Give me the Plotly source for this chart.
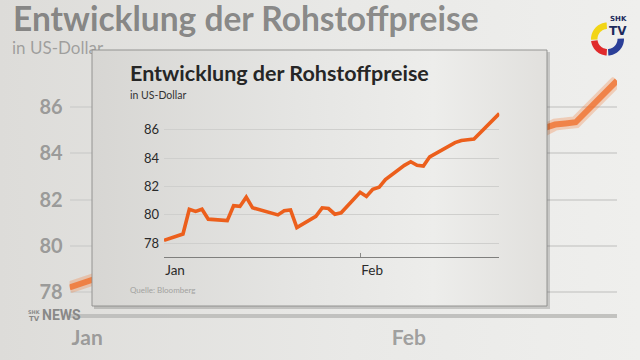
import numpy as np
import plotly.graph_objects as go

W, H = 640, 360

# ---------------- data ----------------
dates = ["2021-01-01", "2021-01-04", "2021-01-05", "2021-01-06", "2021-01-07", "2021-01-08",
         "2021-01-11", "2021-01-12", "2021-01-13", "2021-01-14", "2021-01-15",
         "2021-01-19", "2021-01-20", "2021-01-21", "2021-01-22",
         "2021-01-25", "2021-01-26", "2021-01-27", "2021-01-28", "2021-01-29",
         "2021-02-01", "2021-02-02", "2021-02-03", "2021-02-04", "2021-02-05",
         "2021-02-08", "2021-02-09", "2021-02-10", "2021-02-11", "2021-02-12",
         "2021-02-16", "2021-02-17", "2021-02-18", "2021-02-19", "2021-02-23"]
values = [78.2, 78.65, 80.4, 80.25, 80.4, 79.7,
          79.6, 80.65, 80.6, 81.25, 80.5,
          80.0, 80.3, 80.35, 79.1,
          79.9, 80.5, 80.45, 80.05, 80.15,
          81.6, 81.3, 81.8, 81.95, 82.5,
          83.5, 83.75, 83.5, 83.45, 84.1,
          85.1, 85.25, 85.3, 85.35, 87.15]

y_tick_vals = [78, 80, 82, 84, 86]
x_tick_dates = ["2021-01-01", "2021-02-01"]
x_tick_labels = ["Jan", "Feb"]

title_text = "Entwicklung der Rohstoffpreise"
subtitle_text = "in US-Dollar"
source_text = "Quelle: Bloomberg"
logo_top = "SHK"
logo_bottom = "TV"
news_text = "NEWS"

# ---------------- style ----------------
ORANGE = "#ec5f1c"
FONT = "Lato"
X_RANGE = ["2021-01-01", "2021-02-23"]
Y_RANGE = [77.05, 87.3]


def dom_x(a, b):
    return [a / W, b / W]


def dom_y(top, bottom):
    return [1 - bottom / H, 1 - top / H]


fig = go.Figure()
NOHOVER = dict(hoverinfo="skip", showlegend=False)

# ---- subplot 1: full-frame backdrop (pixel coordinates) ----
fig.add_trace(go.Scatter(
    x=[0, W, W, 0, 0], y=[0, 0, H, H, 0], xaxis="x", yaxis="y", mode="lines",
    line=dict(width=0), fill="toself",
    fillgradient=dict(type="horizontal",
                      colorscale=[[0, "#dddcd9"], [0.55, "#e9e9e7"], [1, "#efefed"]]),
    **NOHOVER))

# blurred (enlarged) title of the background chart - drawn under the card
fig.add_trace(go.Scatter(
    x=[13], y=[23], text=[title_text], mode="text", textposition="middle right",
    textfont=dict(family=FONT, size=33.5, color="rgba(75,75,75,0.62)", weight="bold"),
    xaxis="x", yaxis="y", cliponaxis=False, **NOHOVER))
fig.add_trace(go.Scatter(
    x=[12], y=[50], text=[subtitle_text], mode="text", textposition="middle right",
    textfont=dict(family=FONT, size=17, color="rgba(95,95,95,0.5)"),
    xaxis="x", yaxis="y", cliponaxis=False, **NOHOVER))

# ---- subplot 2: blurred enlarged chart in the background ----
fig.add_trace(go.Scatter(x=dates, y=values, xaxis="x2", yaxis="y2", mode="lines",
                         line=dict(color="rgba(242,125,60,0.30)", width=12), **NOHOVER))
fig.add_trace(go.Scatter(x=dates, y=values, xaxis="x2", yaxis="y2", mode="lines",
                         line=dict(color="rgba(240,112,45,0.80)", width=6), **NOHOVER))

# ---- subplot 3: the card ----
fig.add_trace(go.Scatter(
    x=[94, 550, 550, 94, 94], y=[52, 52, 309, 309, 52], xaxis="x3", yaxis="y3", mode="lines",
    line=dict(width=0), fill="toself", fillcolor="rgba(0,0,0,0.16)", **NOHOVER))
fig.add_trace(go.Scatter(
    x=[92, 547, 547, 92, 92], y=[50, 50, 306, 306, 50], xaxis="x3", yaxis="y3", mode="lines",
    line=dict(width=1, color="rgba(140,140,138,0.9)"), fill="toself",
    fillgradient=dict(type="horizontal",
                      colorscale=[[0, "#d7d6d3"], [0.45, "#e5e5e3"], [0.75, "#ededeb"], [1, "#e1e0dd"]]),
    **NOHOVER))

# ---- subplot 4: foreground chart ----
fig.add_trace(go.Scatter(x=dates, y=values, xaxis="x4", yaxis="y4", mode="lines",
                         line=dict(color=ORANGE, width=3.6), **NOHOVER))

hidden = dict(visible=False, showgrid=False, zeroline=False, fixedrange=True)
fig.update_layout(
    width=W, height=H, margin=dict(l=0, r=0, t=0, b=0),
    paper_bgcolor="#e4e3e0", plot_bgcolor="rgba(0,0,0,0)", showlegend=False,
    xaxis=dict(domain=[0, 1], range=[0, W], anchor="y", **hidden),
    yaxis=dict(domain=[0, 1], range=[H, 0], anchor="x", **hidden),
    xaxis2=dict(domain=dom_x(69.6, 617), range=X_RANGE, type="date", anchor="y2",
                showgrid=False, zeroline=False, showline=True,
                linecolor="rgba(188,188,186,0.9)", linewidth=4, ticks="",
                tickvals=x_tick_dates, ticktext=x_tick_labels,
                ticklabelposition="outside right", ticklabelstandoff=2,
                tickfont=dict(family=FONT, size=21, color="rgba(110,110,110,0.62)", weight="bold")),
    yaxis2=dict(domain=dom_y(77.2, 314), range=Y_RANGE, anchor="x2",
                showgrid=True, gridcolor="rgba(208,208,206,0.8)", gridwidth=2,
                zeroline=False, showline=False, ticks="",
                tickvals=y_tick_vals, ticklabelstandoff=6,
                tickfont=dict(family=FONT, size=20, color="rgba(110,110,110,0.62)", weight="bold")),
    xaxis3=dict(domain=[0, 1], range=[0, W], anchor="y3", **hidden),
    yaxis3=dict(domain=[0, 1], range=[H, 0], anchor="x3", **hidden),
    xaxis4=dict(domain=dom_x(164, 499.3), range=X_RANGE, type="date", anchor="y4",
                showgrid=False, zeroline=False, showline=True,
                linecolor="#7f7f7d", linewidth=1.4, ticks="inside", ticklen=4,
                tickcolor="#8a8a88", tickwidth=1,
                tickvals=x_tick_dates, ticktext=x_tick_labels,
                ticklabelposition="outside right", ticklabelstandoff=1,
                tickfont=dict(family=FONT, size=13.5, color="#2a2a2a")),
    yaxis4=dict(domain=dom_y(111.5, 256.7), range=Y_RANGE, anchor="x4",
                showgrid=True, gridcolor="#cfcfcd", gridwidth=1,
                zeroline=False, showline=False, ticks="",
                tickvals=y_tick_vals, ticklabelstandoff=4,
                tickfont=dict(family=FONT, size=13, color="#2a2a2a")),
)

# ---- card texts ----
fig.add_annotation(text=title_text, x=128 / W, y=1 - 73 / H, xref="paper", yref="paper",
                   xanchor="left", yanchor="middle", showarrow=False,
                   font=dict(family=FONT, size=21.5, color="#262626", weight="bold"))
fig.add_annotation(text=subtitle_text, x=128 / W, y=1 - 95 / H, xref="paper", yref="paper",
                   xanchor="left", yanchor="middle", showarrow=False,
                   font=dict(family=FONT, size=10.5, color="#333333"))
fig.add_annotation(text=source_text, x=128 / W, y=1 - 290 / H, xref="paper", yref="paper",
                   xanchor="left", yanchor="middle", showarrow=False,
                   font=dict(family=FONT, size=8, color="#a2a2a0"))

# ---- SHK TV logo (top right) ----
cx, cy, r_out, r_in = 607.5, 39.0, 16.5, 10.0


def ring_path(a0, a1):
    t = np.radians(np.linspace(a0, a1, 24))
    xo, yo = cx + r_out * np.cos(t), cy - r_out * np.sin(t)
    xi, yi = cx + r_in * np.cos(t[::-1]), cy - r_in * np.sin(t[::-1])
    pts = [f"{x:.2f},{y:.2f}" for x, y in zip(np.r_[xo, xi], np.r_[yo, yi])]
    return "M" + " L".join(pts) + " Z"


for a0, a1, col in [(93, 183, "#f2d516"), (187, 267, "#e02a2c"), (273, 362, "#2b3f98")]:
    fig.add_shape(type="path", path=ring_path(a0, a1), xref="x3", yref="y3",
                  fillcolor=col, line=dict(width=0), layer="above")
fig.add_annotation(text=logo_top, x=618, y=19, xref="x3", yref="y3", showarrow=False,
                   xanchor="center", yanchor="middle",
                   font=dict(family="DejaVu Sans", size=7, color="#1d2a5c", weight="bold"))
fig.add_annotation(text=logo_bottom, x=618, y=31, xref="x3", yref="y3", showarrow=False,
                   xanchor="center", yanchor="middle",
                   font=dict(family="DejaVu Sans", size=12, color="#1d2a5c", weight="bold"))

# ---- NEWS watermark (bottom left) ----
fig.add_annotation(text=logo_top, x=34, y=311.5, xref="x3", yref="y3", showarrow=False,
                   xanchor="center", yanchor="middle",
                   font=dict(family="DejaVu Sans", size=5, color="rgba(120,120,120,0.85)", weight="bold"))
fig.add_annotation(text=logo_bottom, x=34, y=318.5, xref="x3", yref="y3", showarrow=False,
                   xanchor="center", yanchor="middle",
                   font=dict(family="DejaVu Sans", size=7, color="rgba(120,120,120,0.85)", weight="bold"))
fig.add_annotation(text=news_text, x=40, y=315, xref="x3", yref="y3", showarrow=False,
                   xanchor="left", yanchor="middle",
                   font=dict(family="Roboto", size=14, color="rgba(125,125,125,0.9)", weight="bold"))

fig.write_html("out.html", config={"displayModeBar": False},
               post_script="document.body.style.margin='0';")
